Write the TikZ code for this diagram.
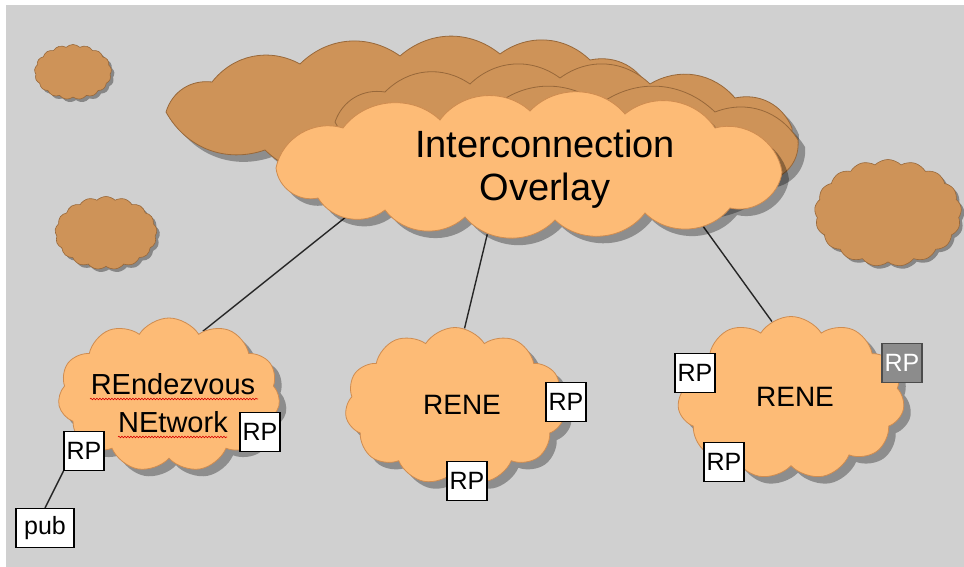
\documentclass[tikz,border=0pt]{standalone}
\usepackage{fontspec}
\setmainfont{Liberation Sans}
\usetikzlibrary{shapes.symbols,shapes.geometric,shadows,decorations.pathmorphing}

\definecolor{paper}{HTML}{D0D0D0}
\definecolor{cloudlight}{HTML}{FDBB76}
\definecolor{cloudlightedge}{HTML}{CF8C50}
\definecolor{clouddark}{HTML}{CE9358}
\definecolor{clouddarkedge}{HTML}{98683A}
\definecolor{rpgray}{HTML}{8C8C8C}

\pgfdeclarelayer{sheet}
\pgfdeclarelayer{wires}
\pgfsetlayers{sheet,wires,main}

\tikzset{
  puff/.style={cloud, cloud ignores aspect, inner sep=0pt, draw},
  bigshadow/.style={drop shadow={shadow xshift=7pt, shadow yshift=-7pt, opacity=0.32, fill=black}},
  smallshadow/.style={drop shadow={shadow xshift=3pt, shadow yshift=-3pt, opacity=0.35, fill=black}},
  litecloud/.style={puff, fill=cloudlight, draw=cloudlightedge, line width=0.8pt, cloud puff arc=115, bigshadow},
  speck/.style={puff, fill=clouddark, draw=clouddarkedge, line width=0.6pt, cloud puffs=17, cloud puff arc=90, smallshadow},
  % hand-made outlines for the wide clouds; each segment is one puff
  liteoutline/.style={fill=cloudlight, draw=cloudlightedge, line width=0.8pt, bigshadow},
  darkoutline/.style={fill=clouddark, draw=clouddarkedge, line width=0.8pt, bigshadow},
  pf/.style={bend left=48},
  pfd/.style={bend left=40},
  holder/.style={ellipse, inner sep=0pt},
  rpbox/.style={draw=black, fill=white, line width=1.1pt, minimum width=40pt, minimum height=39pt, inner sep=0pt,
    font=\fontsize{25}{28}\selectfont},
  wire/.style={draw=black!85, line width=1.4pt},
  squiggle/.style={draw=red!85!black, line width=0.6pt, decorate, decoration={snake, amplitude=0.8pt, segment length=3pt}},
}

\begin{document}
\begin{tikzpicture}[x=1pt, y=-1pt]
  \useasboundingbox (0,0) rectangle (964,567);
  \begin{pgfonlayer}{sheet}
    \fill[white] (0,0) rectangle (964,567);
    \fill[paper] (6,5) rectangle (964,567);
  \end{pgfonlayer}

  % small drifting clouds
  \node[speck, minimum width=77pt, minimum height=55pt] (puffTL) at (73,72) {};
  \node[speck, minimum width=102pt, minimum height=73pt] (puffML) at (106,233) {};
  \node[speck, minimum width=147pt, minimum height=107pt] (puffR) at (888,213) {};

  % stacked dark clouds behind the overlay
  \path[darkoutline] (166,112) to[pfd] (212,82) to[pfd] (300,64) to[pfd] (400,56) to[pfd] (500,54)
    to[pfd] (590,60) to[pfd] (650,92) to[pfd] (620,135) to[pfd] (500,150) to[pfd] (380,158)
    to[pfd] (265,150) to[pfd] (166,112) -- cycle;
  \path[darkoutline] (335,122) to[pfd] (385,92) to[pfd] (470,84) to[pfd] (560,78) to[pfd] (650,84)
    to[pfd] (735,98) to[pfd] (792,128) to[pfd] (760,165) to[pfd] (600,172) to[pfd] (450,168)
    to[pfd] (335,122) -- cycle;
  \path[darkoutline] (430,140) to[pfd] (490,110) to[pfd] (600,104) to[pfd] (715,112) to[pfd] (798,140)
    to[pfd] (770,180) to[pfd] (620,188) to[pfd] (490,178) to[pfd] (430,140) -- cycle;

  % interconnection overlay
  \path[liteoutline] (276,168) to[pf] (343,128) to[pf] (440,120) to[pf] (530,111) to[pf] (625,114)
    to[pf] (715,128) to[pf] (782,172) to[pf] (730,208) to[pf] (645,213) to[pf] (555,220)
    to[pf] (465,217) to[pf] (385,210) to[pf] (318,198) to[pf] (276,168) -- cycle;
  \node[holder, minimum width=500pt, minimum height=130pt] (ovl) at (529,170) {};
  \node[font=\fontsize{38}{43}\selectfont, align=center] (ovltext) at (545,169) {Interconnection\\Overlay};

  % rendezvous networks
  \node[litecloud, cloud puffs=11, minimum width=222pt, minimum height=154pt] (renL) at (169,395) {};
  \node[litecloud, cloud puffs=11, minimum width=220pt, minimum height=157pt] (renM) at (455,406) {};
  \node[litecloud, cloud puffs=11, minimum width=227pt, minimum height=163pt] (renR) at (791,398) {};

  \node[font=\fontsize{29}{38}\selectfont, align=center] (renLtext) at (173,403) {REndezvous\\NEtwork};
  \node[font=\fontsize{28}{32}\selectfont] (renMtext) at (462,405) {RENE};
  \node[font=\fontsize{28}{32}\selectfont] (renRtext) at (795,397) {RENE};

  % spell-check marks under the long label
  \draw[squiggle] (90,399) -- (258,399);
  \draw[squiggle] (118,437) -- (227,437);

  % rendezvous points
  \node[rpbox] (rpA) at (84,451) {RP};
  \node[rpbox] (rpB) at (260,432) {RP};
  \node[rpbox] (rpC) at (566,402) {RP};
  \node[rpbox] (rpD) at (467,481) {RP};
  \node[rpbox] (rpE) at (695,373) {RP};
  \node[rpbox, fill=rpgray, draw=black!70, text=white] (rpF) at (902,363) {RP};
  \node[rpbox] (rpG) at (724,462) {RP};

  % publisher
  \node[rpbox, minimum width=58pt] (pub) at (45,528) {pub};
  \draw[wire] (pub.north) -- (rpA.south west);

  % links from the overlay down to each network
  \begin{pgfonlayer}{wires}
    \draw[wire] (ovl.194) -- (renL.62);
    \draw[wire] (ovl.237) -- (renM.83);
    \draw[wire] (ovl.344) -- (renR.104);
  \end{pgfonlayer}
\end{tikzpicture}
\end{document}
